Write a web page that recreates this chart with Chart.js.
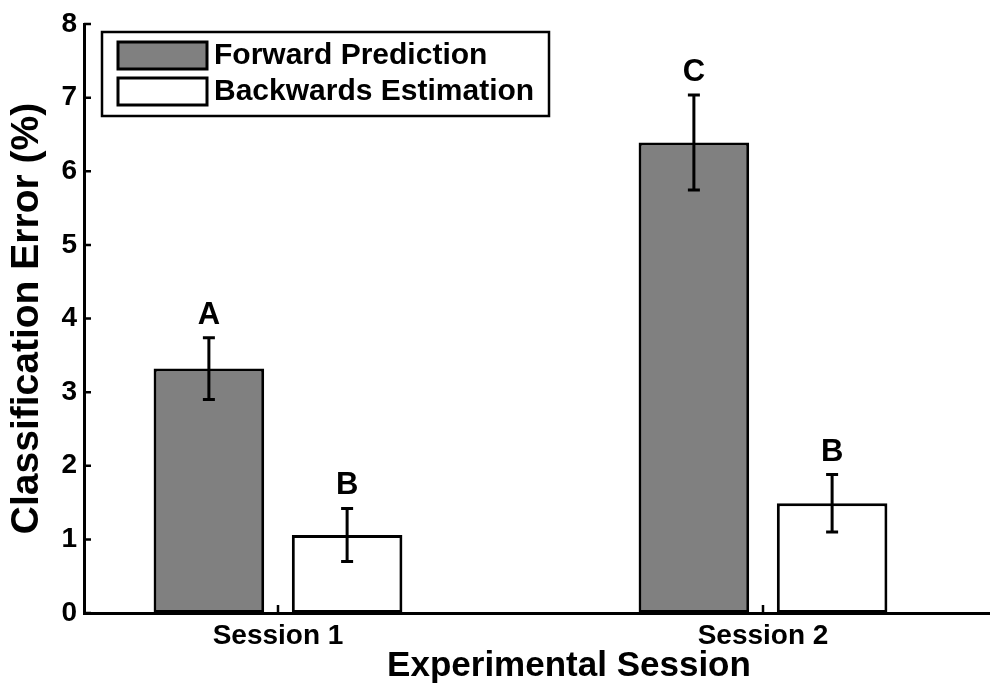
<!DOCTYPE html>
<html>
<head>
<meta charset="utf-8">
<title>Classification error by session</title>
<script src="https://cdn.jsdelivr.net/npm/chart.js@4.4.1/dist/chart.umd.min.js"></script>
<style>
  html, body { margin: 0; padding: 0; background: #fff; overflow: hidden; }
  #wrap { width: 990px; height: 688px; overflow: hidden; }
</style>
</head>
<body>
<div id="wrap"><canvas id="chart" width="1060" height="688"></canvas></div>
<script>
// session groups sit at x = 1 and 2 on a numeric axis (0.6 .. 2.6)
const sessions = ["Session 1", "Session 2"];
const sessionX = [1, 2];
const seriesNames = ["Forward Prediction", "Backwards Estimation"];
const forwardError = [3.32, 6.39];
const backwardError = [1.06, 1.49];
const forwardSem = [0.42, 0.645];
const backwardSem = [0.36, 0.39];
const forwardLetters = ["A", "C"];
const backwardLetters = ["B", "B"];
const yTicks = [0, 1, 2, 3, 4, 5, 6, 7, 8];

const FONT = '"Liberation Sans", Arial, Helvetica, sans-serif';

const points = (vals) => sessionX.map((x, i) => ({ x: x, y: vals[i] }));

// error bars, significance letters, inward ticks and the boxed legend
const extras = {
  id: "extras",
  afterDatasetsDraw(chart) {
    const ctx = chart.ctx;
    const y = chart.scales.y;
    const errs = [forwardSem, backwardSem];
    const letters = [forwardLetters, backwardLetters];
    ctx.save();
    chart.data.datasets.forEach((ds, di) => {
      const meta = chart.getDatasetMeta(di);
      meta.data.forEach((bar, i) => {
        const v = ds.data[i].y;
        const top = y.getPixelForValue(v + errs[di][i]);
        const bot = y.getPixelForValue(v - errs[di][i]);
        ctx.strokeStyle = "#000";
        ctx.lineWidth = 3;
        ctx.beginPath();
        ctx.moveTo(bar.x, top); ctx.lineTo(bar.x, bot);
        ctx.moveTo(bar.x - 6, top); ctx.lineTo(bar.x + 6, top);
        ctx.moveTo(bar.x - 6, bot); ctx.lineTo(bar.x + 6, bot);
        ctx.stroke();
        ctx.fillStyle = "#000";
        ctx.font = "bold 31px " + FONT;
        ctx.textAlign = "center";
        ctx.textBaseline = "alphabetic";
        ctx.fillText(letters[di][i], bar.x, top - 14);
      });
    });
    ctx.restore();
  },
  afterDraw(chart) {
    const ctx = chart.ctx;
    const area = chart.chartArea;
    const x = chart.scales.x, y = chart.scales.y;
    ctx.save();
    ctx.strokeStyle = "#000";
    ctx.lineWidth = 2.5;
    ctx.beginPath();
    y.ticks.forEach((t) => {
      const py = y.getPixelForValue(t.value);
      ctx.moveTo(area.left, py); ctx.lineTo(area.left + 7, py);
    });
    x.ticks.forEach((t) => {
      const px = x.getPixelForValue(t.value);
      ctx.moveTo(px, area.bottom); ctx.lineTo(px, area.bottom - 8);
    });
    ctx.stroke();

    // legend box in the upper left of the axes
    const lx = area.left + 18, ly = area.top + 8;
    ctx.fillStyle = "#fff";
    ctx.fillRect(lx, ly, 447, 84);
    ctx.lineWidth = 2.5;
    ctx.strokeRect(lx, ly, 447, 84);
    chart.data.datasets.forEach((ds, i) => {
      const by = ly + 10 + i * 36;
      ctx.fillStyle = ds.backgroundColor;
      ctx.fillRect(lx + 16, by, 89, 27);
      ctx.lineWidth = 3;
      ctx.strokeRect(lx + 16, by, 89, 27);
      ctx.fillStyle = "#000";
      ctx.font = "bold 30px " + FONT;
      ctx.textAlign = "left";
      ctx.textBaseline = "middle";
      ctx.fillText(ds.label, lx + 112, by + 14);
    });
    ctx.restore();
  }
};

new Chart(document.getElementById("chart"), {
  type: "bar",
  data: {
    datasets: [
      {
        label: seriesNames[0],
        data: points(forwardError),
        backgroundColor: "#808080",
        borderColor: "#000",
        borderWidth: 3,
        borderSkipped: false
      },
      {
        label: seriesNames[1],
        data: points(backwardError),
        backgroundColor: "#ffffff",
        borderColor: "#000",
        borderWidth: 3,
        borderSkipped: false
      }
    ]
  },
  options: {
    responsive: false,
    animation: false,
    categoryPercentage: 0.57,
    barPercentage: 0.8,
    layout: { padding: { top: 24, right: 6, left: 0, bottom: 0 } },
    plugins: {
      legend: { display: false },
      tooltip: { enabled: false }
    },
    scales: {
      x: {
        type: "linear",
        min: 0.6,
        max: 2.6,
        offset: false,
        afterBuildTicks: (scale) => { scale.ticks = sessionX.map((v) => ({ value: v })); },
        afterFit: (scale) => { scale.height = 75; },
        grid: { display: false, drawTicks: false },
        border: { display: true, color: "#000", width: 3 },
        ticks: {
          padding: 6,
          color: "#000",
          font: { family: FONT, size: 28, weight: "bold" },
          callback: (v) => sessions[sessionX.indexOf(v)] || ""
        },
        title: {
          display: true,
          text: "Experimental Session",
          color: "#000",
          font: { family: FONT, size: 35, weight: "bold", lineHeight: 1 },
          padding: { top: 0, bottom: 4 }
        }
      },
      y: {
        min: 0,
        max: 8,
        afterBuildTicks: (scale) => { scale.ticks = yTicks.map((v) => ({ value: v })); },
        afterFit: (scale) => { scale.width = 84; },
        grid: { display: false, drawTicks: false },
        border: { display: true, color: "#000", width: 3 },
        ticks: {
          padding: 7,
          color: "#000",
          font: { family: FONT, size: 28, weight: "bold" }
        },
        title: {
          display: true,
          text: "Classification Error (%)",
          color: "#000",
          font: { family: FONT, size: 39, weight: "bold", lineHeight: 1 },
          padding: { top: 8, bottom: 0 }
        }
      }
    }
  },
  plugins: [extras]
});
</script>
</body>
</html>
